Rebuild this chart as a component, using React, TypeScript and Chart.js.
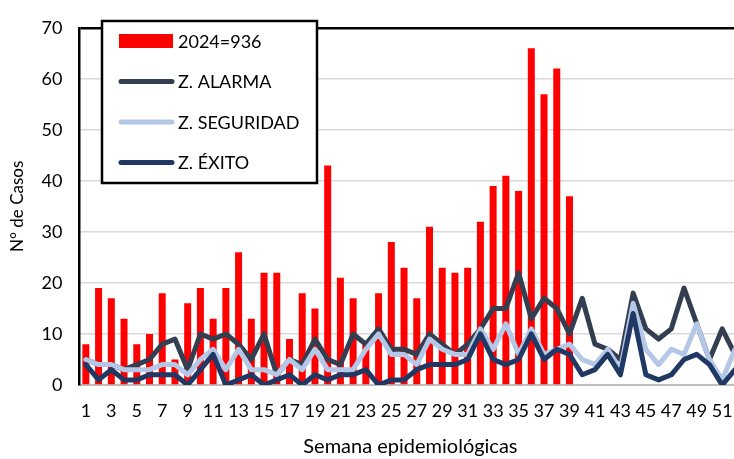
import { useEffect, useRef } from "react";
import { Chart, registerables } from "chart.js";

Chart.register(...registerables);

const weeks = [
  "1", "2", "3", "4", "5", "6", "7", "8", "9", "10", "11", "12", "13",
  "14", "15", "16", "17", "18", "19", "20", "21", "22", "23", "24", "25", "26",
  "27", "28", "29", "30", "31", "32", "33", "34", "35", "36", "37", "38", "39",
  "40", "41", "42", "43", "44", "45", "46", "47", "48", "49", "50", "51", "52",
];

const cases2024 = [
  8, 19, 17, 13, 8, 10, 18, 5, 16, 19, 13, 19, 26,
  13, 22, 22, 9, 18, 15, 43, 21, 17, 8, 18, 28, 23,
  17, 31, 23, 22, 23, 32, 39, 41, 38, 66, 57, 62, 37,
];

const zAlarma = [
  5, 4, 4, 3, 4, 5, 8, 9, 3, 10, 9, 10, 8,
  5, 10, 2, 5, 4, 9, 5, 4, 10, 8, 11, 7, 7,
  6, 10, 8, 6, 8, 11, 15, 15, 22, 13, 17, 15, 10,
  17, 8, 7, 5, 18, 11, 9, 11, 19, 12, 5, 11, 6,
];

const zSeguridad = [
  5, 4, 4, 3, 3, 3, 4, 4, 2, 5, 7, 3, 7,
  3, 3, 2, 5, 3, 7, 3, 3, 3, 7, 10, 6, 6,
  4, 9, 7, 6, 6, 11, 7, 12, 6, 11, 6, 7, 8,
  5, 4, 7, 3, 16, 7, 4, 7, 6, 12, 5, 1, 7,
];

const zExito = [
  4, 1, 3, 1, 1, 2, 2, 2, 0, 3, 6, 0, 1,
  2, 0, 1, 2, 0, 2, 1, 2, 2, 3, 0, 1, 1,
  3, 4, 4, 4, 5, 10, 5, 4, 5, 10, 5, 7, 6,
  2, 3, 6, 2, 14, 2, 1, 2, 5, 6, 4, 0, 3,
];

const yTicks = [0, 10, 20, 30, 40, 50, 60, 70];

const seriesLabels = ["2024=936", "Z. ALARMA", "Z. SEGURIDAD", "Z. ÉXITO"];
const FONT = "Lato, 'Liberation Sans', sans-serif";

const boxLegend = {
  id: "boxLegend",
  afterDraw(chart: any) {
    const ctx = chart.ctx;
    ctx.save();
    const x = 102, y = 21, w = 215, h = 162;
    ctx.fillStyle = "#ffffff";
    ctx.fillRect(x, y, w, h);
    ctx.lineWidth = 2.5;
    ctx.strokeStyle = "#000000";
    ctx.strokeRect(x, y, w, h);
    ctx.font = `18px ${FONT}`;
    ctx.textBaseline = "middle";
    ctx.textAlign = "left";
    chart.data.datasets.forEach((ds: any, i: number) => {
      const cy = y + 20 + i * 40.5;
      if (ds.type === "bar") {
        ctx.fillStyle = ds.backgroundColor;
        ctx.fillRect(x + 17, cy - 7, 54, 14);
      } else {
        ctx.strokeStyle = ds.borderColor;
        ctx.lineWidth = 5;
        ctx.lineCap = "round";
        ctx.beginPath();
        ctx.moveTo(x + 19, cy);
        ctx.lineTo(x + 70, cy);
        ctx.stroke();
      }
      ctx.fillStyle = "#000000";
      ctx.fillText(ds.label, x + 76, cy + 1);
    });
    ctx.restore();
  },
};

export default function App() {
  const ref = useRef<HTMLCanvasElement | null>(null);

  useEffect(() => {
    if (!ref.current) return;
    const lineBase = {
      type: "line" as const,
      borderWidth: 5,
      pointRadius: 0,
      pointHoverRadius: 0,
      tension: 0,
      fill: false,
      borderJoinStyle: "round" as const,
      borderCapStyle: "round" as const,
    };
    const chart = new Chart(ref.current, {
      type: "bar",
      data: {
        labels: weeks,
        datasets: [
          {
            type: "bar",
            label: seriesLabels[0],
            data: cases2024,
            backgroundColor: "#FF0000",
            borderWidth: 0,
            categoryPercentage: 0.55,
            barPercentage: 1,
            order: 4,
          } as any,
          { ...lineBase, label: seriesLabels[1], data: zAlarma, borderColor: "#333F50", backgroundColor: "#333F50", order: 3 },
          { ...lineBase, label: seriesLabels[2], data: zSeguridad, borderColor: "#B4C7E7", backgroundColor: "#B4C7E7", order: 2 },
          { ...lineBase, label: seriesLabels[3], data: zExito, borderColor: "#203864", backgroundColor: "#203864", order: 1 },
        ],
      },
      options: {
        animation: false,
        responsive: false,
        maintainAspectRatio: false,
        layout: { padding: { top: 17, right: 6, bottom: 0, left: 2 } },
        plugins: {
          legend: { display: false },
          tooltip: { enabled: false },
        },
        scales: {
          x: {
            offset: true,
            grid: { display: false, drawTicks: false },
            border: { display: true, color: "#BFBFBF", width: 2 },
            ticks: {
              autoSkip: false,
              maxRotation: 0,
              minRotation: 0,
              padding: 15,
              color: "#000000",
              font: { family: FONT, size: 18 },
              callback: (_v: any, i: number) => (i % 2 === 0 ? weeks[i] : ""),
            },
            title: {
              display: true,
              text: "Semana epidemiológicas",
              color: "#000000",
              font: { family: FONT, size: 20 },
              padding: { top: 0, bottom: 0 },
            },
            afterFit: (s: any) => { s.height = 74; },
          },
          y: {
            min: 0,
            max: 70,
            afterBuildTicks: (s: any) => { s.ticks = yTicks.map((v) => ({ value: v })); },
            grid: {
              drawTicks: false,
              color: (c: any) => (c.tick && c.tick.value === 70 ? "#000000" : "#D9D9D9"),
              lineWidth: (c: any) => (c.tick && c.tick.value === 70 ? 2.5 : 1.5),
            },
            border: { display: true, color: "#000000", width: 2.5 },
            ticks: {
              padding: 17,
              color: "#000000",
              font: { family: FONT, size: 18 },
            },
            title: {
              display: true,
              text: "N° de Casos",
              color: "#000000",
              font: { family: FONT, size: 17 },
              padding: { top: 5, bottom: 0 },
            },
            afterFit: (s: any) => { s.width = 77.5; },
          },
        },
      },
      plugins: [boxLegend],
    });
    return () => chart.destroy();
  }, []);

  return (
    <div style={{ position: "fixed", left: 0, top: 0, width: 750, height: 459, background: "#fff" }}>
      <canvas ref={ref} width={750} height={459} style={{ width: 750, height: 459, display: "block" }} />
    </div>
  );
}
